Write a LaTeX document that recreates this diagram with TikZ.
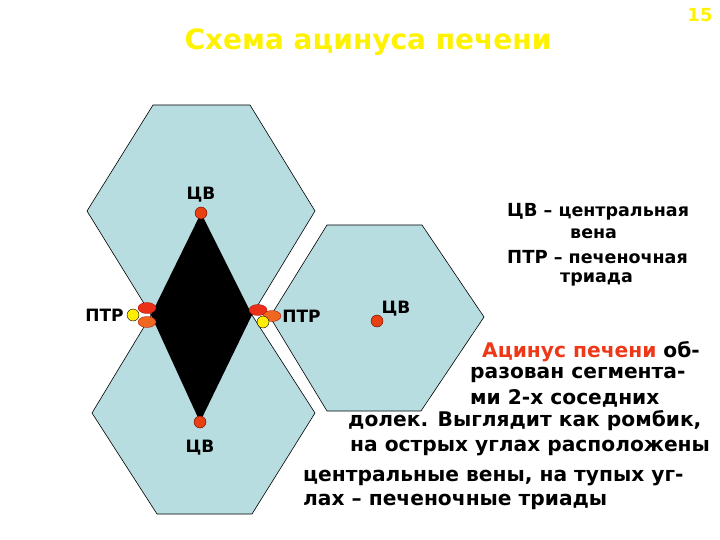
\documentclass[tikz,border=0pt]{standalone}
\usepackage{fontspec}
\setmainfont{DejaVu Sans}
\usetikzlibrary{positioning}
\usetikzlibrary{shapes.geometric}
\tikzset{>=latex}
\definecolor{lobuleblue}{RGB}{184,221,225}
\definecolor{veinred}{RGB}{232,64,16}
\definecolor{triadred}{RGB}{236,48,24}
\definecolor{triadorange}{RGB}{240,104,32}
\definecolor{triadyellow}{RGB}{255,238,0}
\definecolor{acinusred}{RGB}{238,56,24}
\tikzset{
  lobule/.style={fill=lobuleblue, draw=black, line width=0.6pt},
  vein/.style={circle, fill=veinred, draw=black!60!red, line width=0.4pt,
    minimum size=12pt, inner sep=0pt},
  triadA/.style={ellipse, fill=triadred, draw=red!60!black, line width=0.3pt,
    minimum width=18pt, minimum height=11pt, inner sep=0pt},
  triadB/.style={ellipse, fill=triadorange, draw=red!60!black, line width=0.3pt,
    minimum width=18pt, minimum height=11pt, inner sep=0pt},
  triadC/.style={circle, fill=triadyellow, draw=black, line width=0.4pt,
    minimum size=12pt, inner sep=0pt},
  lbl/.style={font=\bfseries\fontsize{17}{19}\selectfont, inner sep=0pt},
  txt/.style={font=\bfseries\fontsize{20.2}{22}\selectfont, anchor=west, inner sep=0pt},
  keytxt/.style={font=\bfseries\fontsize{17.5}{19}\selectfont, anchor=west, inner sep=0pt}
}
\begin{document}
\begin{tikzpicture}[x=1pt, y=-1pt]
        \useasboundingbox (0,0) rectangle (720,540);

        % title and page number
        \node [font=\bfseries\fontsize{28}{32}\selectfont, text=yellow] (Title) at (368,42) {Схема ацинуса печени};
        \node [font=\bfseries\fontsize{18}{20}\selectfont, text=yellow] (PageNo) at (700,15) {15};

        % lobules
        \fill [lobule] (153,105) -- (250,105) -- (315,211) -- (250,318) -- (153,318) -- (87,211) -- cycle;
        \fill [lobule] (153,312) -- (250,312) -- (315,413) -- (252,514) -- (157,514) -- (92,413) -- cycle;
        \fill [lobule] (327,225) -- (422,225) -- (484,317) -- (421,411) -- (327,411) -- (270,317) -- cycle;

        % acinus
        \coordinate (CVTopPos) at (201,213);
        \coordinate (CVBotPos) at (200,422);
        \coordinate (PTRLeft) at (151,315);
        \coordinate (PTRRight) at (252,315);
        \fill [black] (CVTopPos) -- (PTRLeft) -- (CVBotPos) -- (PTRRight) -- cycle;

        % central veins
        \node [vein, label={[lbl, label distance=4pt]above:ЦВ}] (CVTop) at (CVTopPos) {};
        \node [vein, label={[lbl, label distance=12pt]below:ЦВ}] (CVBot) at (CVBotPos) {};
        \node [vein, label={[lbl, label distance=0pt]above right:ЦВ}] (CVRight) at (377,321) {};

        % portal triads
        \node [triadB] (PTRLeftB) at (147,322) {};
        \node [triadA] (PTRLeftA) at (147,308) {};
        \node [triadC] (PTRLeftC) at (133,315) {};
        \node [lbl, left=3pt of PTRLeftC] (PTRLeftLbl) {ПТР};

        \node [triadA] (PTRRightA) at (258,310) {};
        \node [triadB] (PTRRightB) at (272,316) {};
        \node [triadC] (PTRRightC) at (263,322) {};
        \node [lbl, right=1pt of PTRRightB] (PTRRightLbl) {ПТР};

        % key
        \node [keytxt] (KeyCV) at (507,212) {{\fontsize{18}{20}\selectfont ЦВ} – центральная};
        \node [keytxt] (KeyCV2) at (570,234) {вена};
        \node [keytxt] (KeyPTR) at (507,257) {{\fontsize{18}{20}\selectfont ПТР} – печеночная};
        \node [keytxt] (KeyPTR2) at (560,279) {триада};

        % description
        \node [txt] (Desc1) at (482,352) {\textcolor{acinusred}{Ацинус печени} об-};
        \node [txt] (Desc2) at (470,375) {разован сегмента-};
        \node [txt] (Desc3) at (470,398) {ми 2-х соседних};
        \node [txt] (Desc4) at (348,421) {долек. Выглядит как ромбик,};
        \node [txt] (Desc5) at (350,448) {на острых углах расположены};
        \node [txt] (Desc6) at (303,478) {центральные вены, на тупых уг-};
        \node [txt] (Desc7) at (303,502) {лах – печеночные триады};
\end{tikzpicture}
\end{document}
